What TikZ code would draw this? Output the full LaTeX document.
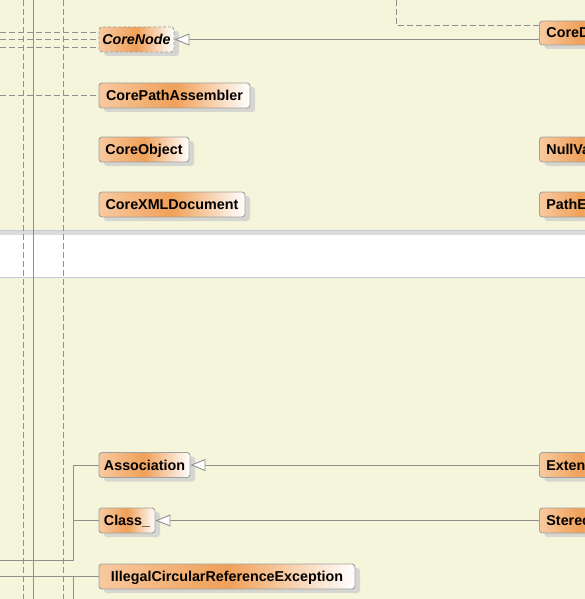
\documentclass[tikz,border=0pt]{standalone}
\usepackage{fontspec}
\setmainfont{Liberation Sans}
\usetikzlibrary{arrows.meta,shadows,calc}
\definecolor{bg}{HTML}{F5F5DC}
\definecolor{orL}{HTML}{F8C9A0}
\definecolor{orM}{HTML}{F0A058}
\definecolor{boxborder}{HTML}{A0A0A0}
\definecolor{linegray}{HTML}{909090}
\definecolor{bandgray}{HTML}{DADADA}
\definecolor{bandline}{HTML}{C4CAD8}
\definecolor{shadowgray}{HTML}{D6D6D0}
\tikzset{
  cls/.style={draw=boxborder, line width=0.9pt, rounded corners=3pt,
    left color=orL, right color=white, middle color=orM,
    minimum height=25pt, inner sep=0pt, text height=11pt, text depth=1pt,
    font=\fontsize{14.3}{16}\selectfont\bfseries,
    drop shadow={shadow xshift=5pt, shadow yshift=-4pt, fill=shadowgray, opacity=1}},
  clsr/.style={cls, anchor=west, text width=70pt, align=left, inner xsep=7pt},
  rel/.style={draw=linegray, line width=0.9pt},
  dep/.style={draw=linegray, line width=0.9pt, dash pattern=on 6pt off 3pt},
  gen/.style={rel, -{Triangle[length=15pt,width=12pt,fill=white]}}
}
\begin{document}
\begin{tikzpicture}[x=1pt,y=-1pt]
\useasboundingbox (0,0) rectangle (585,599);
\clip (0,0) rectangle (585,599);
\fill[bg] (0,0) rectangle (585,599);
\fill[white] (0,232) rectangle (585,277.5);
\fill[bandgray] (0,231) rectangle (585,235);
\draw[bandline, line width=1.2pt] (0,230.8) -- (585,230.8);
\draw[bandline, line width=1pt] (0,277.5) -- (585,277.5);

% vertical lines
\coordinate (V1t) at (23.5,0); \coordinate (V1b) at (23.5,599);
\coordinate (V2t) at (33.5,0); \coordinate (V2b) at (33.5,599);
\coordinate (V3t) at (63.5,0); \coordinate (V3b) at (63.5,599);
\draw[dep] (V1t) -- (V1b);
\draw[rel] (V2t) -- (V2b);
\draw[dep] (V3t) -- (V3b);

% nodes
\node[cls, dashed, dash pattern=on 3pt off 2pt, minimum width=75pt] (CoreNode) at (136.5,39.5) {\textit{CoreNode}};
\node[cls, minimum width=151pt] (CorePathAssembler) at (174.5,95.5) {CorePathAssembler};
\node[cls, minimum width=90pt] (CoreObject) at (144,149.5) {CoreObject};
\node[cls, minimum width=146pt] (CoreXMLDocument) at (172,204.5) {CoreXMLDocument};
\node[cls, minimum width=91pt] (Association) at (144.5,465) {Association};
\node[cls, minimum width=56pt] (Class) at (127,520.5) {Class\_};
\node[cls, minimum width=256pt] (Illegal) at (227,576.5) {IllegalCircularReferenceException};

\node[clsr, minimum height=24pt] (CoreD) at (539,33) {CoreD};
\node[clsr] (NullVa) at (539,149.5) {NullVa};
\node[clsr] (PathE) at (539,204.5) {PathE};
\node[clsr] (Exten) at (539,465) {Exten};
\node[clsr] (Stereo) at (539,520.5) {Stereo};

% dashed dependencies to CoreNode / CorePathAssembler
\coordinate (D1) at (0,32);
\coordinate (D2) at (0,39.5);
\coordinate (D3) at (0,47);
\coordinate (D4) at (0,95.5);
\draw[dep] (D1) -- (D1 -| CoreNode.west);
\draw[dep] (D2) -- (CoreNode.west);
\draw[dep] (D3) -- (D3 -| CoreNode.west);
\draw[dep] (D4) -- (CorePathAssembler.west);

% CoreD dashed
\coordinate (T1) at (396.5,0);
\draw[dep] ([yshift=-5pt]CoreD.north west) -| (T1);

% generalizations
\draw[gen] (CoreNode.east -| CoreD.west) -- (CoreNode.east);
\draw[gen] (Exten.west) -- (Association.east);
\draw[gen] (Stereo.west) -- (Class.east);

% solid associations at bottom left
\coordinate (L1) at (0,560);
\coordinate (J1) at (73.5,560);
\draw[rel] (L1) -- (J1) |- (Association.west);
\draw[rel] (J1 |- Class.west) -- (Class.west);
\coordinate (L2) at (0,576.5);
\coordinate (B2) at (73.5,599);
\draw[rel] (L2) -- (Illegal.west);
\draw[rel] (B2) -- (B2 |- Illegal.west);
\end{tikzpicture}
\end{document}
